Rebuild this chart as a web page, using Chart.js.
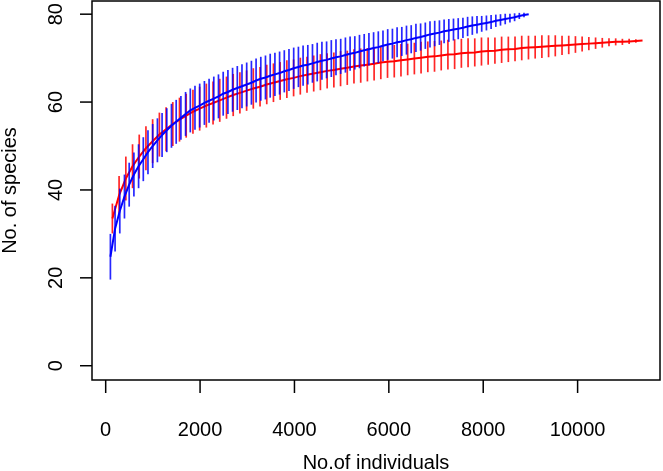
<!DOCTYPE html>
<html>
<head>
<meta charset="utf-8">
<script src="https://cdn.jsdelivr.net/npm/chart.js@4.4.1/dist/chart.umd.min.js"></script>
<style>
  body { margin: 0; background: #fff; }
  canvas { display: block; }
</style>
</head>
<body>
<canvas id="chart" width="663" height="471"></canvas>
<script>
// accumulated individuals at each site step (red sample)
const redIndividuals = [142,284,427,569,711,853,995,1138,1280,1422,1564,1706,1849,1991,2133,2275,2417,2560,2702,2844,
  2986,3128,3271,3413,3555,3697,3839,3982,4124,4266,4408,4550,4693,4835,4977,5119,5261,5404,5546,5688,
  5830,5972,6115,6257,6399,6541,6683,6826,6968,7110,7252,7394,7537,7679,7821,7963,8105,8248,8390,8532,
  8674,8816,8959,9101,9243,9385,9527,9670,9812,9954,10096,10238,10381,10523,10665,10807,10949,11092,11234,11376];
const redSpecies = [33.5,38.8,42.6,45.4,47.6,49.5,51.1,52.6,53.8,55.0,
  56.0,56.9,57.8,58.5,59.2,59.8,60.4,61.0,61.6,62.1,
  62.6,63.1,63.5,64.0,64.4,64.8,65.2,65.5,65.9,66.2,
  66.5,66.8,67.1,67.3,67.6,67.8,68.1,68.3,68.5,68.7,
  69.0,69.2,69.3,69.5,69.7,69.9,70.1,70.3,70.4,70.6,
  70.8,70.9,71.1,71.2,71.3,71.5,71.6,71.7,71.9,72.0,
  72.1,72.3,72.4,72.5,72.6,72.7,72.8,72.9,73.0,73.1,
  73.2,73.3,73.4,73.5,73.6,73.7,73.7,73.8,73.9,74.0];
// half length of the error bar (species)
const redError = [3.4,4.4,5.0,5.0,5.0,5.0,5.0,5.0,5.0,5.0,
  5.0,5.0,5.0,5.0,5.0,4.9,4.9,4.8,4.8,4.7,
  4.6,4.6,4.5,4.5,4.4,4.3,4.3,4.2,4.2,4.1,
  4.1,4.1,4.0,4.0,4.0,3.9,3.9,3.9,3.8,3.8,
  3.8,3.7,3.7,3.7,3.6,3.6,3.6,3.5,3.5,3.4,
  3.4,3.4,3.3,3.3,3.2,3.2,3.1,3.0,3.0,2.9,
  2.8,2.8,2.7,2.6,2.6,2.5,2.4,2.2,2.1,1.9,
  1.7,1.5,1.3,1.1,0.9,0.8,0.7,0.6,0.4,0.0];

// blue sample
const blueIndividuals = [100,199,299,398,498,598,697,797,896,996,1096,1195,1295,1394,1494,1594,1693,1793,1892,1992,
  2092,2191,2291,2390,2490,2590,2689,2789,2888,2988,3088,3187,3287,3386,3486,3586,3685,3785,3884,3984,
  4084,4183,4283,4382,4482,4582,4681,4781,4880,4980,5080,5179,5279,5378,5478,5578,5677,5777,5876,5976,
  6076,6175,6275,6374,6474,6574,6673,6773,6872,6972,7072,7171,7271,7370,7470,7570,7669,7769,7868,7968,
  8068,8167,8267,8366,8466,8566,8665,8765,8864,8964];
const blueSpecies = [24.8,31.2,35.2,38.5,41.2,43.5,45.4,47.0,48.6,50.0,
  51.3,52.5,53.6,54.6,55.5,56.4,57.3,58.1,58.7,59.2,
  59.8,60.3,60.8,61.3,61.9,62.3,62.8,63.2,63.6,64.0,
  64.4,64.9,65.3,65.6,66.0,66.3,66.6,67.0,67.3,67.7,
  68.0,68.3,68.5,68.8,69.1,69.4,69.6,69.9,70.2,70.4,
  70.7,71.0,71.2,71.5,71.8,72.0,72.3,72.5,72.8,73.1,
  73.3,73.6,73.8,74.1,74.3,74.6,74.8,75.1,75.4,75.6,
  75.8,76.1,76.3,76.5,76.7,76.9,77.2,77.4,77.6,77.8,
  78.0,78.2,78.5,78.7,78.9,79.1,79.3,79.6,79.8,80.0];
const blueError = [5.2,5.2,5.1,5.0,5.0,5.0,5.0,5.0,5.0,5.0,
  5.0,5.0,5.0,5.0,5.0,5.0,5.0,5.0,5.0,5.0,
  5.0,5.0,5.0,5.0,5.0,5.0,5.0,5.0,5.0,5.0,
  5.0,5.0,5.0,5.0,5.0,4.9,4.9,4.8,4.8,4.7,
  4.6,4.6,4.5,4.4,4.4,4.3,4.2,4.2,4.1,4.0,
  4.0,3.9,3.8,3.8,3.7,3.7,3.6,3.6,3.5,3.5,
  3.4,3.4,3.3,3.3,3.2,3.2,3.1,3.0,3.0,2.9,
  2.8,2.7,2.6,2.5,2.4,2.3,2.2,2.1,2.0,1.8,
  1.7,1.6,1.4,1.3,1.2,1.0,0.9,0.7,0.5,0.0];

const xTicks = [0, 2000, 4000, 6000, 8000, 10000];
const yTicks = [0, 20, 40, 60, 80];

const font = '20px "Liberation Sans", Arial, sans-serif';

function toPoints(xs, ys) {
  return xs.map((x, i) => ({ x: x, y: ys[i] }));
}

// vertical error bars, drawn just before each curve so the line sits on top
const errorBars = {
  id: 'errorBars',
  beforeDatasetDraw(chart, args) {
    let ds = chart.data.datasets[args.index];
    let xScale = chart.scales.x;
    let yScale = chart.scales.y;
    let ctx = chart.ctx;
    ctx.save();
    ctx.strokeStyle = ds.barColor;
    ctx.lineWidth = 1.7;
    ds.data.forEach((p, i) => {
      let px = xScale.getPixelForValue(p.x);
      ctx.beginPath();
      ctx.moveTo(px, yScale.getPixelForValue(p.y - ds.errors[i]));
      ctx.lineTo(px, yScale.getPixelForValue(p.y + ds.errors[i]));
      ctx.stroke();
    });
    ctx.restore();
  }
};

// R style frame, ticks and labels
const rAxes = {
  id: 'rAxes',
  afterDraw(chart) {
    let ctx = chart.ctx;
    let area = chart.chartArea;
    let xScale = chart.scales.x;
    let yScale = chart.scales.y;
    ctx.save();
    ctx.strokeStyle = '#000';
    ctx.fillStyle = '#000';
    ctx.lineWidth = 1.5;
    ctx.strokeRect(area.left, area.top, area.right - area.left, area.bottom - area.top);

    ctx.font = font;
    ctx.textAlign = 'center';
    ctx.textBaseline = 'alphabetic';
    xTicks.forEach(v => {
      let px = xScale.getPixelForValue(v);
      ctx.beginPath();
      ctx.moveTo(px, area.bottom);
      ctx.lineTo(px, area.bottom + 13);
      ctx.stroke();
      ctx.fillText(String(v), px, 436);
    });

    yTicks.forEach(v => {
      let py = yScale.getPixelForValue(v);
      ctx.beginPath();
      ctx.moveTo(area.left, py);
      ctx.lineTo(area.left - 12, py);
      ctx.stroke();
      ctx.save();
      ctx.translate(61.5, py);
      ctx.rotate(-Math.PI / 2);
      ctx.fillText(String(v), 0, 0);
      ctx.restore();
    });

    // axis titles
    ctx.fillText('No.of individuals', (area.left + area.right) / 2, 469);
    ctx.save();
    ctx.translate(16, (area.top + area.bottom) / 2);
    ctx.rotate(-Math.PI / 2);
    ctx.fillText('No. of species', 0, 0);
    ctx.restore();
    ctx.restore();
  }
};

new Chart(document.getElementById('chart'), {
  type: 'scatter',
  data: {
    datasets: [
      {
        label: 'blue',
        data: toPoints(blueIndividuals, blueSpecies),
        errors: blueError,
        barColor: 'rgba(0, 0, 255, 0.85)',
        showLine: true,
        borderColor: '#0000ff',
        borderWidth: 2,
        pointRadius: 0,
        tension: 0
      },
      {
        label: 'red',
        data: toPoints(redIndividuals, redSpecies),
        errors: redError,
        barColor: 'rgba(255, 0, 0, 0.85)',
        showLine: true,
        borderColor: '#ff0000',
        borderWidth: 2,
        pointRadius: 0,
        tension: 0
      }
    ]
  },
  options: {
    responsive: false,
    animation: false,
    devicePixelRatio: 1,
    layout: { padding: { top: 1, right: 3, bottom: 0, left: 0 } },
    plugins: {
      legend: { display: false },
      tooltip: { enabled: false }
    },
    scales: {
      x: {
        type: 'linear',
        min: -290,
        max: 11746,
        grid: { display: false, drawTicks: false },
        border: { display: false },
        ticks: { display: false },
        afterFit(scale) { scale.height = 91; }
      },
      y: {
        type: 'linear',
        min: -3.25,
        max: 83.0,
        grid: { display: false, drawTicks: false },
        border: { display: false },
        ticks: { display: false },
        afterFit(scale) { scale.width = 92; }
      }
    }
  },
  plugins: [errorBars, rAxes]
});
</script>
</body>
</html>
